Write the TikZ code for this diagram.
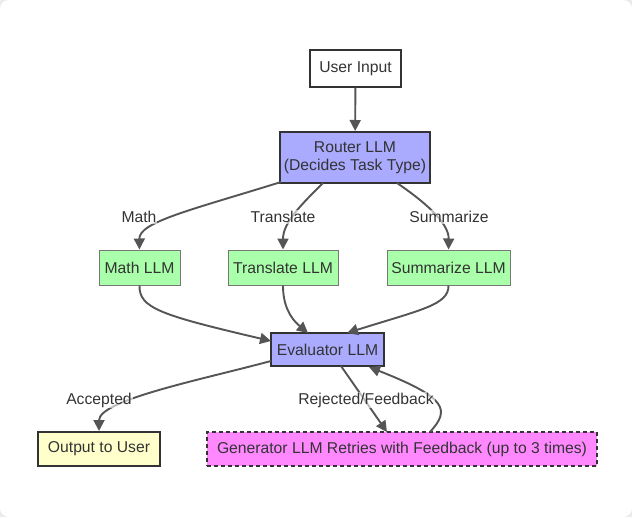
\documentclass[tikz,border=0pt]{standalone}
\usepackage{fontspec}
\setmainfont{Liberation Sans}
\usetikzlibrary{arrows.meta}
\definecolor{txt}{HTML}{333333}
\definecolor{edge}{HTML}{555555}
\definecolor{lav}{HTML}{AAAAFF}
\definecolor{grn}{HTML}{AAFFAA}
\definecolor{yel}{HTML}{FFFFCC}
\definecolor{mag}{HTML}{FF88FF}
\begin{document}
\begin{tikzpicture}[x=1pt,y=-1pt,
  base/.style={draw=txt,text=txt,font=\fontsize{15.7}{18.5}\selectfont,inner sep=0pt,align=center},
  plain/.style={base,fill=white,line width=1.4pt},
  proc/.style={base,fill=lav,line width=2pt},
  task/.style={base,fill=grn,draw=edge!80,line width=1pt},
  outbox/.style={base,fill=yel,line width=2pt},
  genbox/.style={base,fill=mag,line width=1.5pt,dash pattern=on 4pt off 3pt},
  conn/.style={draw=edge,line width=1.9pt,-{Triangle[length=11pt,width=11pt]}},
  elabel/.style={text=txt,font=\fontsize{15.7}{18.5}\selectfont,fill=white,fill opacity=0.6,text opacity=1,inner sep=1pt}]
\useasboundingbox (0,0) rectangle (632,517);
\fill[black!8] (0,0) rectangle (632,517);
\fill[white,rounded corners=9pt] (0,0) rectangle (632,517);

\node[plain,minimum width=91pt,minimum height=37pt] (user) at (355.5,68.5) {User Input};
\node[proc,minimum width=150pt,minimum height=51pt] (router) at (355,157.5) {Router LLM\\(Decides Task Type)};
\node[task,minimum width=81pt,minimum height=35pt] (math) at (139.5,267.5) {Math LLM};
\node[task,minimum width=110pt,minimum height=35pt] (trans) at (283,267.5) {Translate LLM};
\node[task,minimum width=123pt,minimum height=35pt] (summ) at (448.5,267.5) {Summarize LLM};
\node[proc,minimum width=113pt,minimum height=33pt] (eval) at (327.5,349.5) {Evaluator LLM};
\node[outbox,minimum width=122pt,minimum height=34pt] (out) at (99,449) {Output to User};
\node[genbox,minimum width=390pt,minimum height=34pt] (gen) at (402,449) {Generator LLM Retries with Feedback (up to 3 times)};

\coordinate (rm) at (281,182);
\coordinate (rt) at (323,183);
\coordinate (rs) at (397,183);
\coordinate (em) at (271,341);
\coordinate (et) at (308,333);
\coordinate (es) at (347,333);
\coordinate (eo) at (271,361);
\coordinate (eg) at (341,366);
\coordinate (gt) at (387,432);
\coordinate (gs) at (430,432);
\coordinate (ge) at (369,367);

\draw[conn] (user) -- (router);
\draw[conn] (rm) .. controls (191,210) and (139,222) .. (math.north);
\draw[conn] (rt) .. controls (303,203) and (283,222) .. (trans.north);
\draw[conn] (rs) .. controls (422,200) and (449,222) .. (summ.north);
\draw[conn] (math.south) .. controls (139,308) and (160,315) .. (em);
\draw[conn] (trans.south) .. controls (283,305) and (290,318) .. (et);
\draw[conn] (summ.south) .. controls (449,305) and (420,310) .. (es);
\draw[conn] (eo) .. controls (200,380) and (99,400) .. (out.north);
\draw[conn] (eg) -- (gt);
\draw[conn] (gs) .. controls (450,410) and (448,398) .. (ge);

\node[elabel] (lm) at (139,217) {Math};
\node[elabel] (lt) at (283,217) {Translate};
\node[elabel] (ls) at (449,217) {Summarize};
\node[elabel] (la) at (99,400) {Accepted};
\node[elabel] (lr) at (366,400) {Rejected/Feedback};
\end{tikzpicture}
\end{document}
